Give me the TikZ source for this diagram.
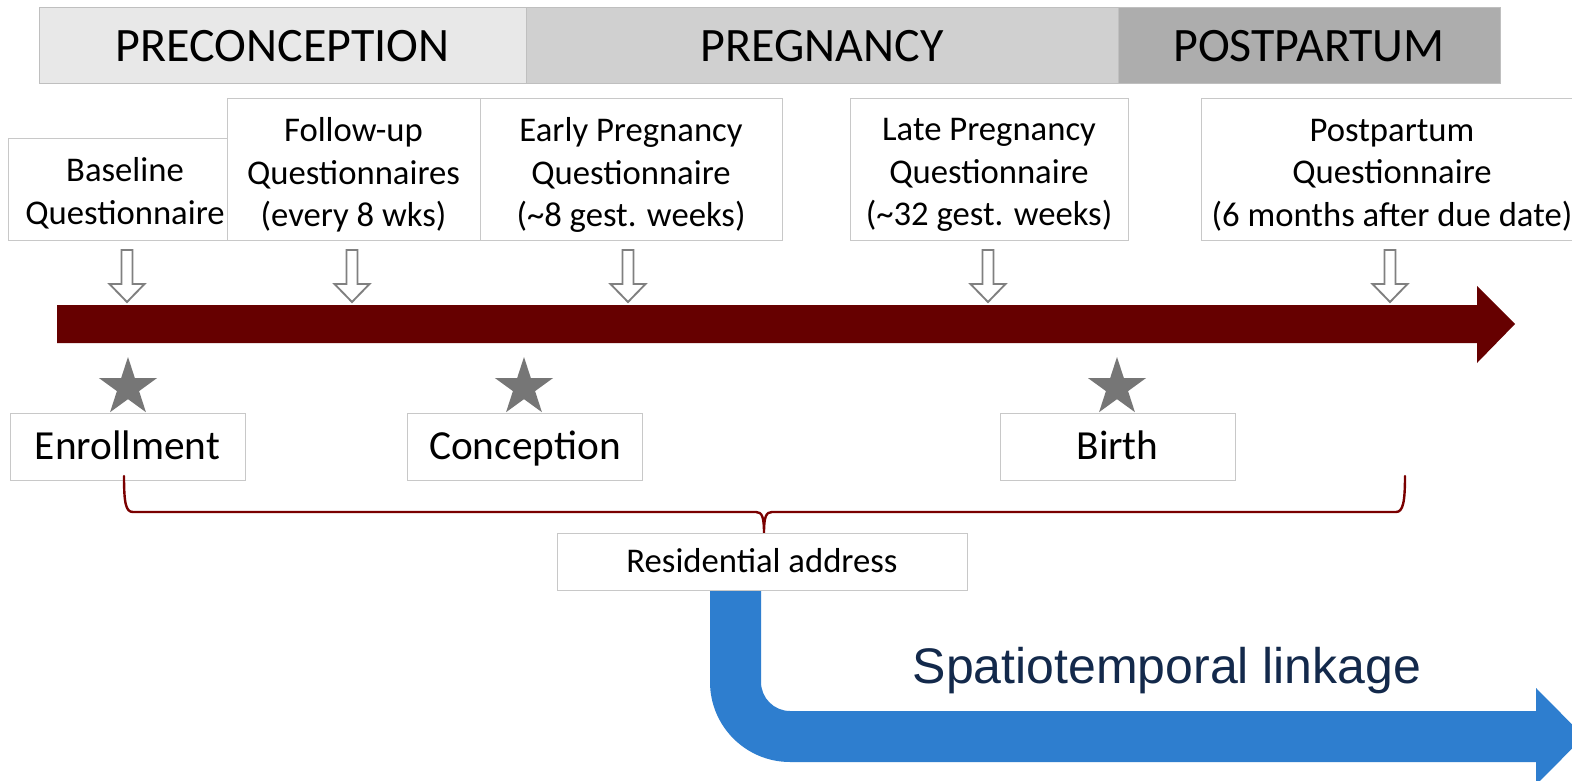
\documentclass[tikz,border=0pt]{standalone}
\usepackage{fontspec}
\setmainfont{Carlito}
\newfontfamily\arialfont{Liberation Sans}
\usetikzlibrary{calc}

\definecolor{hdrA}{HTML}{E8E8E8}
\definecolor{hdrB}{HTML}{D0D0D0}
\definecolor{hdrC}{HTML}{ADADAD}
\definecolor{hdrline}{HTML}{BFBFBF}
\definecolor{boxline}{HTML}{C8C8C8}
\definecolor{timeline}{HTML}{660000}
\definecolor{bracecol}{HTML}{7A0000}
\definecolor{starcol}{HTML}{767676}
\definecolor{arrowline}{HTML}{808080}
\definecolor{linkblue}{HTML}{2E7ECF}
\definecolor{linknavy}{HTML}{13294B}

\tikzset{
  phase/.style={draw=hdrline, line width=0.75pt, minimum height=57pt, inner sep=0pt,
    font=\fontsize{36}{43}\selectfont},
  qbox/.style={draw=boxline, fill=white, line width=0.75pt, inner sep=0pt},
  qtext/.style={align=center, inner sep=0pt, font=\fontsize{26}{32}\selectfont},
  evbox/.style={draw=boxline, fill=white, line width=0.75pt, inner sep=0pt,
    minimum width=176.25pt, minimum height=50.25pt, text height=20pt, text depth=-1.8pt,
    font=\fontsize{31}{37}\selectfont},
  qarrow/.pic={
    \draw[arrowline, fill=white, line width=1.4pt, line join=miter]
      (-5.5,0) -- (-5.5,34) -- (-17.5,34) -- (0,52) -- (17.5,34) -- (5.5,34) -- (5.5,0) -- cycle;
  },
  eventstar/.pic={
    \fill[starcol] (-90:30.5) -- (-54:11.65) -- (-18:30.5) -- (18:11.65) -- (54:30.5)
      -- (90:11.65) -- (126:30.5) -- (162:11.65) -- (198:30.5) -- (234:11.65) -- cycle;
  },
}

\begin{document}
\begin{tikzpicture}[x=0.75pt, y=-0.75pt]
\fill[white] (0,0) rectangle (1572,781);
\useasboundingbox (0,0) rectangle (1572,781);

% phase header
\node[phase, fill=hdrA, minimum width=365.25pt] (pre)  at (282.5,46) {PRECONCEPTION};
\node[phase, fill=hdrB, minimum width=444pt]    (preg) at (822,46)   {PREGNANCY};
\node[phase, fill=hdrC, minimum width=286.5pt]  (post) at (1309,46)  {POSTPARTUM};

% questionnaire boxes
\node[qbox, minimum width=175.5pt, minimum height=76.5pt]  (base)   at (125,190) {};
\node[qtext] (baseT) at (125,193) {Baseline\\Questionnaire};
\node[qbox, minimum width=189.75pt, minimum height=106.5pt] (follow) at (353.5,170) {};
\node[qtext] (followT) at (353.5,175) {Follow-up\\Questionnaires\\(every 8 wks)};
\node[qbox, minimum width=226.5pt, minimum height=106.5pt] (early) at (631,170) {};
\node[qtext] (earlyT) at (631,175)
  {Early Pregnancy\\Questionnaire\\(\textasciitilde 8 gest. weeks)};
\node[qbox, minimum width=208.5pt, minimum height=106.5pt] (late) at (989,170) {};
\node[qtext] (lateT) at (989,175)
  {Late Pregnancy\\Questionnaire\\(\textasciitilde 32 gest. weeks)};
\node[qbox, minimum width=286.5pt, minimum height=106.5pt] (pp) at (1392,170) {};
\node[qtext] (ppT) at (1392,175) {Postpartum\\Questionnaire\\(6 months after due date)};

% questionnaire arrows onto the timeline
\pic at (127,250) {qarrow};
\pic at (352,250) {qarrow};
\pic at (628,250) {qarrow};
\pic at (988,250) {qarrow};
\pic at (1390,250) {qarrow};

% timeline
\fill[timeline] (57,305) -- (1477,305) -- (1477,286) -- (1515,324) -- (1477,363)
  -- (1477,343) -- (57,343) -- cycle;

% key events
\pic at (128,387.5) {eventstar};
\pic at (524,387.5) {eventstar};
\pic at (1117,387.5) {eventstar};
\node[evbox] (enrol) at (127.5,446.5) {Enrollment};
\node[evbox] (conc)  at (525,446.5)   {Conception};
\node[evbox] (birth) at (1117.5,446.5) {Birth};

% brace spanning enrollment to postpartum
\coordinate (braceL) at (124,476);
\coordinate (braceR) at (1405,476);
\coordinate (braceM) at (764,533);
\draw[bracecol, line width=1.8pt, line cap=round, line join=round]
  (braceL) .. controls (124,504) and (126,512) .. (133,512) -- (756,512)
  .. controls (762,512) and (764,517) .. (braceM)
  .. controls (764,517) and (766,512) .. (772,512) -- (1396,512)
  .. controls (1403,512) and (1405,502) .. (braceR);

% linkage arrow
\fill[linkblue] (710,588) -- (710,682) .. controls (710,726.2) and (745.8,762) .. (790,762)
  -- (1536,762) -- (1536,785) -- (1584,736.5) -- (1536,688) -- (1536,711) -- (790,711)
  .. controls (774,711) and (761,698) .. (761,682) -- (761,588) -- cycle;

\node[draw=boxline, fill=white, line width=0.75pt, inner sep=0pt,
  minimum width=307.5pt, minimum height=42.75pt, text height=16.7pt, text depth=-2pt,
  font=\fontsize{26}{32}\selectfont] (addr) at (762,561.5) {Residential address};

\node[font=\arialfont\fontsize{37.5}{45}\selectfont, text=linknavy, anchor=base, inner sep=0pt]
  (link) at (1167,683) {Spatiotemporal linkage};
\end{tikzpicture}
\end{document}
